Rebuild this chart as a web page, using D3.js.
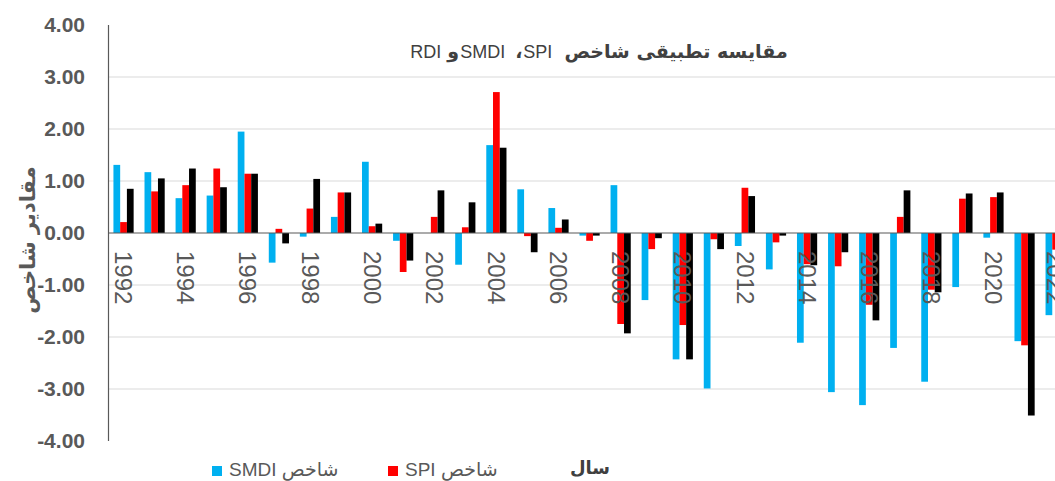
<!DOCTYPE html>
<html>
<head>
<meta charset="utf-8">
<script src="https://cdn.jsdelivr.net/npm/d3@7"></script>
<style>
  body { margin: 0; background: #fff; }
  .axis text { fill: #595959; }
</style>
</head>
<body>
<div id="chart"></div>
<script>
// years on the x axis
var years = [1992, 1993, 1994, 1995, 1996, 1997, 1998, 1999, 2000, 2001, 2002,
             2003, 2004, 2005, 2006, 2007, 2008, 2009, 2010, 2011, 2012, 2013,
             2014, 2015, 2016, 2017, 2018, 2019, 2020, 2021, 2022];
var yearLabels = [1992, 1994, 1996, 1998, 2000, 2002, 2004, 2006, 2008, 2010,
                  2012, 2014, 2016, 2018, 2020, 2022];
var yTicks = [-4, -3, -2, -1, 0, 1, 2, 3, 4];

var smdi = [1.31, 1.17, 0.67, 0.72, 1.95, -0.57, -0.07, 0.31, 1.37, -0.15, 0.00,
            -0.61, 1.69, 0.84, 0.48, -0.05, 0.92, -1.29, -2.43, -2.99, -0.25, -0.70,
            -2.11, -3.06, -3.31, -2.21, -2.86, -1.04, -0.09, -2.08, -1.58];
var spi = [0.21, 0.80, 0.92, 1.24, 1.14, 0.08, 0.47, 0.78, 0.13, -0.75, 0.31,
           0.11, 2.71, -0.06, 0.10, -0.15, -1.75, -0.31, -1.77, -0.12, 0.87, -0.18,
           -0.60, -0.64, -1.38, 0.31, -1.09, 0.66, 0.69, -2.16, -0.32];
var rdi = [0.85, 1.05, 1.24, 0.88, 1.14, -0.20, 1.04, 0.78, 0.18, -0.53, 0.82,
           0.59, 1.64, -0.37, 0.26, -0.05, -1.93, -0.10, -2.43, -0.31, 0.71, -0.05,
           -0.62, -0.37, -1.68, 0.82, -1.14, 0.76, 0.78, -3.51, -0.40];

var seriesNames = ["SMDI", "SPI", "RDI"];
var seriesColors = {SMDI: "#00b0f0", SPI: "#ff0000", RDI: "#000000"};

var width = 1055, height = 481;
var persian = "'DejaVu Sans', 'Noto Sans', sans-serif";
var latin = "'Liberation Sans', Arial, sans-serif";

var svg = d3.select("#chart")
    .append("svg")
    .attr("width", width)
    .attr("height", height)
    .style("background", "#fff");

// x scales (the chart runs past the right edge, like the original)
var x0 = d3.scaleBand()
    .domain(years)
    .range([108, 108 + years.length * 31.07])
    .paddingInner(0.35)
    .paddingOuter(0.175);

var x1 = d3.scaleBand()
    .domain(seriesNames)
    .range([0, x0.bandwidth()]);

var y = d3.scaleLinear()
    .domain([-4, 4])
    .range([441, 25]);

// gridlines
svg.append("g")
    .selectAll("line")
    .data(yTicks.filter(d => d != 0 && Math.abs(d) != 4))
    .enter()
    .append("line")
    .attr("x1", 108)
    .attr("x2", width)
    .attr("y1", d => y(d))
    .attr("y2", d => y(d))
    .attr("stroke", "#d9d9d9")
    .attr("stroke-width", 1);

// y axis
var yAxis = svg.append("g")
    .attr("class", "axis y-axis")
    .attr("transform", "translate(108,0)")
    .call(d3.axisLeft(y).tickValues(yTicks).tickFormat(d => d.toFixed(2)).tickSize(0).tickPadding(23));
yAxis.select(".domain").remove();
yAxis.selectAll("text")
    .style("font-family", latin)
    .style("font-size", "21px")
    .style("font-weight", "bold");

svg.append("line")
    .attr("x1", 108.5).attr("x2", 108.5)
    .attr("y1", y(4)).attr("y2", y(-4))
    .attr("stroke", "#595959")
    .attr("stroke-width", 1.2);

// bars
var rows = years.map(function(yr, i) {
    return {year: yr, SMDI: smdi[i], SPI: spi[i], RDI: rdi[i]};
});

var groups = svg.append("g")
    .selectAll("g")
    .data(rows)
    .enter()
    .append("g")
    .attr("transform", d => "translate(" + x0(d.year) + ",0)");

groups.selectAll("rect")
    .data(d => seriesNames.map(k => ({key: k, value: d[k]})))
    .enter()
    .append("rect")
    .attr("x", d => x1(d.key))
    .attr("width", x1.bandwidth())
    .attr("y", d => y(Math.max(0, d.value)))
    .attr("height", d => Math.abs(y(d.value) - y(0)))
    .attr("fill", d => seriesColors[d.key]);

// zero line
svg.append("line")
    .attr("x1", 108).attr("x2", width)
    .attr("y1", y(0)).attr("y2", y(0))
    .attr("stroke", "#595959")
    .attr("stroke-width", 1.2);

// x axis labels, rotated, every other year
var xAxis = svg.append("g")
    .attr("class", "axis x-axis")
    .attr("transform", "translate(0," + y(0) + ")")
    .call(d3.axisBottom(x0).tickValues(yearLabels).tickSize(0));
xAxis.select(".domain").remove();
xAxis.selectAll("text")
    .attr("transform", "translate(0,18) rotate(90)")
    .attr("x", 0)
    .attr("y", 0)
    .attr("dy", "0.35em")
    .style("text-anchor", "start")
    .style("font-family", latin)
    .style("font-size", "24px");

// title: pieces placed in visual order, left to right
var titleParts = [
    {text: "RDI", bold: false, gap: 6},
    {text: "و", bold: true, gap: 1},
    {text: "SMDI", bold: false, gap: 10},
    {text: "،", bold: true, gap: 1},
    {text: "SPI", bold: false, gap: 12},
    {text: "مقایسه تطبیقی شاخص", bold: true, gap: 0}
];
var titleG = svg.append("g");
var titleTexts = titleG.selectAll("text")
    .data(titleParts)
    .enter()
    .append("text")
    .attr("y", 58)
    .attr("fill", "#404040")
    .style("font-family", d => d.bold ? persian : latin)
    .style("font-size", d => d.bold ? "19px" : "18px")
    .style("font-weight", d => d.bold ? "bold" : "normal")
    .text(d => d.text);
var widths = [];
titleTexts.each(function() { widths.push(this.getComputedTextLength()); });
var total = d3.sum(widths) + d3.sum(titleParts, d => d.gap);
var cx = 599 - total / 2;
titleTexts.attr("x", function(d, i) {
    var xx = cx;
    cx += widths[i] + d.gap;
    return xx;
});

// y axis title
svg.append("text")
    .attr("transform", "translate(35,240) rotate(-90)")
    .attr("text-anchor", "middle")
    .attr("direction", "rtl")
    .style("font-family", persian)
    .style("font-size", "21px")
    .style("font-weight", "bold")
    .attr("fill", "#595959")
    .text("مقادیر شاخص");

// x axis title
svg.append("text")
    .attr("x", 590)
    .attr("y", 474)
    .attr("text-anchor", "middle")
    .attr("direction", "rtl")
    .style("font-family", persian)
    .style("font-size", "18px")
    .style("font-weight", "bold")
    .attr("fill", "#404040")
    .text("سال");

// legend (only the first two entries show in the frame)
var legendItems = [
    {key: "SMDI", label: "شاخص", x: 212},
    {key: "SPI", label: "شاخص", x: 388}
];
var legend = svg.append("g")
    .selectAll("g")
    .data(legendItems)
    .enter()
    .append("g")
    .attr("transform", d => "translate(" + d.x + ",0)");
legend.append("rect")
    .attr("x", 0)
    .attr("y", 466)
    .attr("width", 10)
    .attr("height", 10)
    .attr("fill", d => seriesColors[d.key]);
var legendText = legend.append("text")
    .attr("x", 17)
    .attr("y", 476)
    .style("font-size", "19px")
    .attr("fill", "#595959");
legendText.append("tspan")
    .style("font-family", latin)
    .text(d => d.key + " ");
legendText.append("tspan")
    .style("font-family", persian)
    .text(d => d.label);
</script>
</body>
</html>
